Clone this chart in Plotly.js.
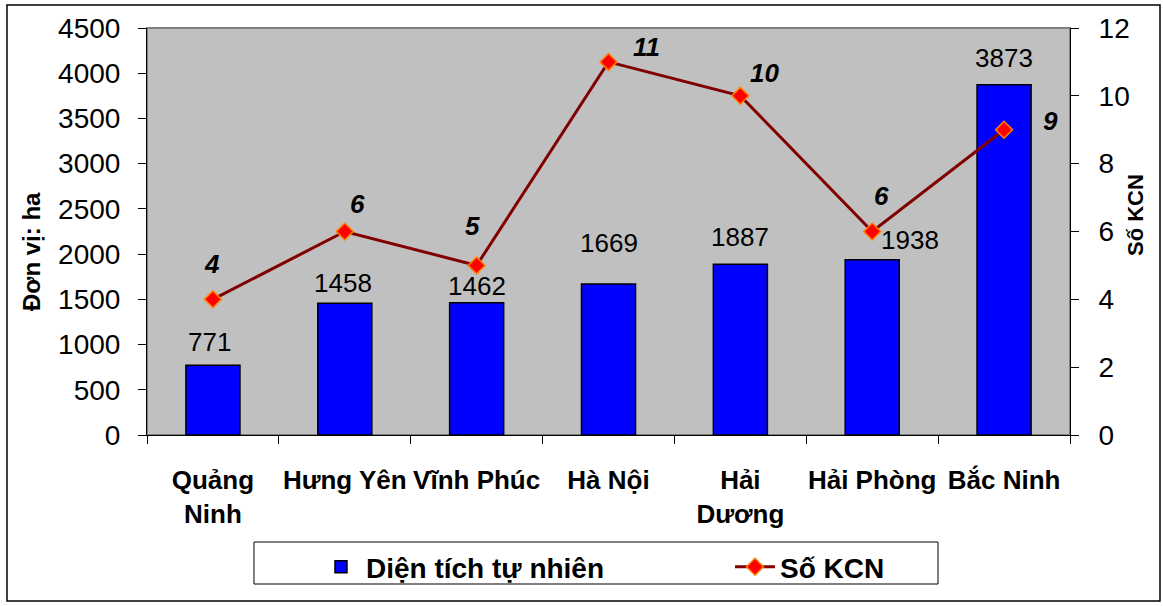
<!DOCTYPE html>
<html>
<head>
<meta charset="utf-8">
<script src="https://cdn.plot.ly/plotly-3.0.1.min.js"></script>
<style>
html,body{margin:0;padding:0;background:#fff;}
#chart{width:1163px;height:606px;}
</style>
</head>
<body>
<div id="chart"></div>
<script>
// ---- data ----
const categories = ['Quảng Ninh', 'Hưng Yên', 'Vĩnh Phúc', 'Hà Nội', 'Hải Dương', 'Hải Phòng', 'Bắc Ninh'];
const tickLabels = ['Quảng<br>Ninh', 'Hưng Yên', 'Vĩnh Phúc', 'Hà Nội', 'Hải<br>Dương', 'Hải Phòng', 'Bắc Ninh'];
const areaHa = [771, 1458, 1462, 1669, 1887, 1938, 3873];
const soKCN = [4, 6, 5, 11, 10, 6, 9];
const barName = 'Diện tích tự nhiên';
const lineName = 'Số KCN';
const leftTitle = 'Đơn vị: ha';
const rightTitle = 'Số KCN';

// label pixel offsets [dx, dy(up)]
const barLabelOffsets = [[-3,23],[-2,20],[0,17],[0,41],[0,27],[38,20],[0,27]];
const lineLabelOffsets = [[-1,35],[13,28],[-4,39],[38,15],[24,23],[9,36],[46,9]];

const FONT = '"Liberation Sans", Arial, sans-serif';

const traces = [
  {
    type: 'bar', x: categories, y: areaHa, name: barName,
    marker: {color: '#0000FF', line: {color: '#000000', width: 1.5}},
    hoverinfo: 'x+y'
  },
  {
    type: 'scatter', mode: 'lines+markers', x: categories, y: soKCN, yaxis: 'y2', name: lineName,
    line: {color: '#800000', width: 3},
    marker: {symbol: 'diamond', size: 13, color: '#FF0000', line: {color: '#FF8000', width: 1.5}},
    hoverinfo: 'x+y'
  }
];

const annotations = [];
categories.forEach((c, i) => {
  annotations.push({
    xref: 'x', yref: 'y', x: c, y: areaHa[i], text: String(areaHa[i]),
    showarrow: false, xanchor: 'center', yanchor: 'middle',
    xshift: barLabelOffsets[i][0], yshift: barLabelOffsets[i][1],
    font: {family: FONT, size: 26, color: '#000'}
  });
  annotations.push({
    xref: 'x', yref: 'y2', x: c, y: soKCN[i], text: '<b><i>' + soKCN[i] + '</i></b>',
    showarrow: false, xanchor: 'center', yanchor: 'middle',
    xshift: lineLabelOffsets[i][0], yshift: lineLabelOffsets[i][1],
    font: {family: FONT, size: 26, color: '#000'}
  });
});
annotations.push({
  xref: 'paper', yref: 'paper', x: -0.1257, y: 0.452, text: '<b>' + leftTitle + '</b>',
  textangle: -90, showarrow: false, xanchor: 'center', yanchor: 'middle',
  font: {family: FONT, size: 24, color: '#000'}
});
annotations.push({
  xref: 'paper', yref: 'paper', x: 1.0704, y: 0.5405, text: '<b>' + rightTitle + '</b>',
  textangle: -90, showarrow: false, xanchor: 'center', yanchor: 'middle',
  font: {family: FONT, size: 22, color: '#000'}
});

const layout = {
  width: 1163, height: 606,
  margin: {l: 147, r: 93, t: 28, b: 171, pad: 0, autoexpand: false},
  paper_bgcolor: '#FFFFFF',
  plot_bgcolor: '#C0C0C0',
  font: {family: FONT, size: 26, color: '#000'},
  bargap: 0.59,
  showlegend: true,
  legend: {
    orientation: 'h', xref: 'container', yref: 'container',
    x: 0.2717, y: 0.1056, xanchor: 'left', yanchor: 'top',
    borderwidth: 0, bgcolor: 'rgba(0,0,0,0)',
    font: {family: FONT, size: 28, color: '#000', weight: 'bold'},
    entrywidth: 359, entrywidthmode: 'pixels', itemwidth: 40
  },
  xaxis: {
    type: 'category', tickmode: 'array', tickvals: categories, ticktext: tickLabels,
    tickson: 'boundaries', ticks: 'outside', ticklen: 8, tickcolor: '#000', tickwidth: 1,
    showline: true, linecolor: '#000', linewidth: 1, showgrid: false, zeroline: false,
    tickfont: {family: FONT, size: 26, color: '#000', weight: 'bold'},
    tickangle: 0, automargin: false,
    ticklabelstandoff: 22
  },
  yaxis: {
    range: [0, 4500], dtick: 500, tick0: 0, ticks: 'outside', ticklen: 8, tickcolor: '#000',
    showline: true, linecolor: '#000', linewidth: 1, showgrid: false, zeroline: false,
    tickfont: {family: FONT, size: 28, color: '#000'}, ticklabelstandoff: 12, automargin: false
  },
  yaxis2: {
    range: [0, 12], dtick: 2, tick0: 0, overlaying: 'y', side: 'right',
    ticks: 'outside', ticklen: 8, tickcolor: '#000',
    showline: true, linecolor: '#000', linewidth: 1, showgrid: false, zeroline: false,
    tickfont: {family: FONT, size: 28, color: '#000'}, ticklabelstandoff: 14, automargin: false
  },
  annotations: annotations,
  shapes: [
    {type: 'rect', xref: 'paper', yref: 'paper', x0: 0, x1: 1, y0: 0, y1: 1,
     line: {color: '#808080', width: 2}, fillcolor: 'rgba(0,0,0,0)', layer: 'below'},
    // legend frame
    {type: 'rect', xref: 'paper', yref: 'paper', x0: 0.1159, x1: 0.857, y0: -0.3661, y1: -0.2629,
     line: {color: '#000', width: 1}, fillcolor: '#FFFFFF', layer: 'above'},
    // outer chart frame
    {type: 'rect', xref: 'paper', yref: 'paper', x0: -0.1517, x1: 1.0975, y0: -0.408, y1: 1.0565,
     line: {color: '#000', width: 1.5}, fillcolor: 'rgba(0,0,0,0)', layer: 'above'}
  ]
};

Plotly.newPlot('chart', traces, layout, {staticPlot: true, displayModeBar: false});
</script>
</body>
</html>
